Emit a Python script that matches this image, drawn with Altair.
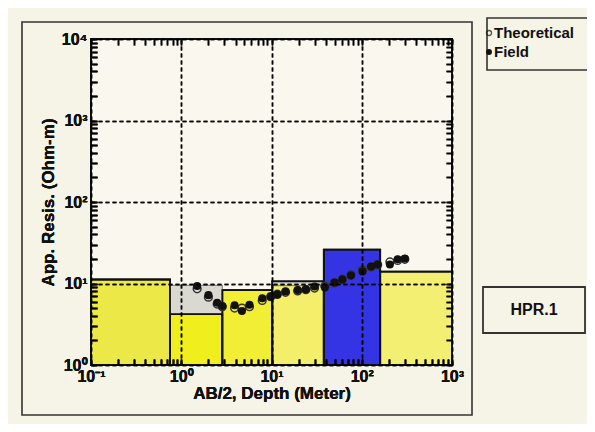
import json
import altair as alt
import pandas as pd

# ---- layered earth model (AB/2 boundaries and resistivity) ----
layer_left = [0.1, 0.75, 2.85, 10.2, 38.0, 160.0]
layer_right = [0.75, 2.85, 10.2, 38.0, 160.0, 1000.0]
layer_rho = [11.2, 4.2, 8.3, 10.6, 26.0, 14.0]
layer_color = ["#ece848", "#f0ee1c", "#f2ee36", "#f3ef6a", "#3434e4", "#f3ef72"]

# grey equivalence shading
shade_left = [0.75, 10.2]
shade_right = [2.85, 38.0]
shade_low = [4.2, 9.4]
shade_high = [9.5, 10.6]

# ---- sounding curves ----
field_x = [1.5, 2.0, 2.5, 2.85, 3.9, 4.7, 5.7, 7.9, 9.8, 11.6, 14.3, 19.5,
           24, 30, 39, 50, 61, 76, 102, 127, 150, 205, 250, 300]
field_y = [9.3, 7.2, 5.8, 5.3, 5.4, 4.6, 5.5, 6.6, 6.9, 7.3, 8.0, 8.3,
           8.5, 9.2, 8.9, 10.3, 11.2, 12.5, 14.0, 16.2, 17.1, 17.1, 19.8, 20.3]
theo_x = [1.5, 2.0, 2.5, 2.85, 3.9, 4.7, 5.7, 7.9, 9.8, 11.6, 14.3, 19.5,
          24, 30, 39, 50, 61, 76, 102, 127, 150, 205, 250, 300]
theo_y = [8.6, 6.8, 5.6, 5.2, 5.0, 5.0, 5.2, 6.2, 6.9, 7.4, 7.8, 8.1,
          8.4, 8.8, 9.3, 10.2, 11.3, 12.8, 14.6, 16.0, 17.0, 18.4, 19.2, 19.8]

x_tick_labels = ["10⁻¹", "10⁰", "10¹", "10²", "10³"]
y_tick_labels = ["10⁰", "10¹", "10²", "10³", "10⁴"]
legend_labels = ["Theoretical", "Field"]
station_label = "HPR.1"
x_title = "AB/2, Depth (Meter)"
y_title = "App. Resis. (Ohm-m)"

W, H = 361, 326
INK = "#111111"
FONT = "Liberation Sans"

layers_df = pd.DataFrame({"left": layer_left, "right": layer_right,
                          "low": [1.0] * len(layer_rho), "rho": layer_rho,
                          "color": layer_color})
shade_df = pd.DataFrame({"left": shade_left, "right": shade_right,
                         "low": shade_low, "high": shade_high})
field_df = pd.DataFrame({"x": field_x, "y": field_y})
theo_df = pd.DataFrame({"x": theo_x, "y": theo_y})
one = pd.DataFrame({"a": [0]})

xs = alt.Scale(type="log", domain=[0.1, 1000], nice=False)
ys = alt.Scale(type="log", domain=[1, 10000], nice=False)

x_ticks = [round(m * 10.0 ** k, 6) for k in range(-1, 3) for m in range(1, 10)] + [1000.0]
y_ticks = [float(m * 10 ** k) for k in range(0, 4) for m in range(1, 10)] + [10000.0]

is_dec = "abs(log(datum.value)/LN10 - round(log(datum.value)/LN10)) < 1e-6"
x_lab_expr = f"({is_dec}) ? {json.dumps(x_tick_labels, ensure_ascii=False)}[round(log(datum.value)/LN10)+1] : ''"
y_lab_expr = f"({is_dec}) ? {json.dumps(y_tick_labels, ensure_ascii=False)}[round(log(datum.value)/LN10)] : ''"

lab = dict(labelFont=FONT, labelFontWeight="bold", labelFontSize=16, labelColor=INK,
           labelOverlap=False, labelFlush=False,
           titleFont=FONT, titleFontWeight="bold", titleFontSize=17, titleColor=INK)

TS = 6
x_bottom = alt.Axis(orient="bottom", values=x_ticks, labelExpr=x_lab_expr, grid=False,
                    domain=False, ticks=True, tickSize=TS, tickWidth=1.6, tickColor="black",
                    offset=-TS, labelPadding=3, title=x_title, titlePadding=1, zindex=2, **lab)
y_left = alt.Axis(orient="left", values=y_ticks, labelExpr=y_lab_expr, grid=False,
                  domain=False, ticks=True, tickSize=TS, tickWidth=1.6, tickColor="black",
                  offset=-TS, labelPadding=4, title=y_title, titlePadding=4, zindex=2, **lab)

grid_op = {"condition": {"test": is_dec, "value": 1}, "value": 0}
x_top = alt.Axis(orient="top", values=x_ticks, labels=False, domain=False, ticks=True,
                 tickSize=TS, tickWidth=1.6, tickColor="black", offset=-TS, grid=True,
                 gridColor="black", gridDash=[4, 3], gridWidth=1.5, gridOpacity=grid_op,
                 title=None, zindex=1)
y_right = alt.Axis(orient="right", values=y_ticks, labels=False, domain=False, ticks=True,
                   tickSize=TS, tickWidth=1.6, tickColor="black", offset=-TS, grid=True,
                   gridColor="black", gridDash=[4, 3], gridWidth=1.5, gridOpacity=grid_op,
                   title=None, zindex=1)

fills = alt.Chart(layers_df).mark_rect(stroke=INK, strokeWidth=1.8).encode(
    x=alt.X("left:Q", scale=xs, axis=x_bottom),
    x2="right:Q",
    y=alt.Y("low:Q", scale=ys, axis=y_left),
    y2="rho:Q",
    color=alt.Color("color:N", scale=None),
)

shades = alt.Chart(shade_df).mark_rect(color="#d9d9d2", stroke="#555555", strokeWidth=0.8).encode(
    x=alt.X("left:Q", scale=xs, axis=x_bottom),
    x2="right:Q",
    y=alt.Y("low:Q", scale=ys, axis=y_left),
    y2="high:Q",
)

outlines = alt.Chart(layers_df).mark_rect(filled=False, stroke=INK, strokeWidth=1.8).encode(
    x=alt.X("left:Q", scale=xs, axis=x_bottom),
    x2="right:Q",
    y=alt.Y("low:Q", scale=ys, axis=y_left),
    y2="rho:Q",
)

theo = alt.Chart(theo_df).mark_point(shape="circle", filled=False, size=60, color="#333333",
                                     strokeWidth=1.5, opacity=1).encode(
    x=alt.X("x:Q", scale=xs, axis=x_top),
    y=alt.Y("y:Q", scale=ys, axis=y_right),
)

field = alt.Chart(field_df).mark_circle(size=65, color=INK, opacity=1).encode(
    x=alt.X("x:Q", scale=xs, axis=x_top),
    y=alt.Y("y:Q", scale=ys, axis=y_right),
)

frame = alt.Chart(one).mark_rect(filled=False, stroke="#333333", strokeWidth=1.6).encode(
    x=alt.value(-69), x2=alt.value(381), y=alt.value(-17), y2=alt.value(376))

leg_box = alt.Chart(one).mark_rect(filled=False, stroke="#333333", strokeWidth=1.6).encode(
    x=alt.value(396), x2=alt.value(502), y=alt.value(-21), y2=alt.value(31))

leg_open = alt.Chart(one).mark_point(shape="circle", filled=False, size=25, color=INK,
                                     strokeWidth=1.3).encode(x=alt.value(398), y=alt.value(-6))
leg_fill = alt.Chart(one).mark_circle(size=35, color=INK, opacity=1).encode(
    x=alt.value(398), y=alt.value(13))
leg_t1 = alt.Chart(one).mark_text(text=legend_labels[0], align="left", baseline="middle",
                                  font=FONT, fontWeight="bold", fontSize=15, color=INK).encode(
    x=alt.value(403), y=alt.value(-6))
leg_t2 = alt.Chart(one).mark_text(text=legend_labels[1], align="left", baseline="middle",
                                  font=FONT, fontWeight="bold", fontSize=15, color=INK).encode(
    x=alt.value(403), y=alt.value(13))

hpr_box = alt.Chart(one).mark_rect(filled=False, stroke="#333333", strokeWidth=1.8).encode(
    x=alt.value(392), x2=alt.value(494), y=alt.value(248), y2=alt.value(294))
hpr_t = alt.Chart(one).mark_text(text=station_label, align="center", baseline="middle",
                                 font=FONT, fontWeight="bold", fontSize=16, color=INK).encode(
    x=alt.value(443), y=alt.value(271))

chart = alt.layer(
    fills, shades, outlines, theo, field, frame,
    leg_box, leg_open, leg_fill, leg_t1, leg_t2, hpr_box, hpr_t,
).properties(
    width=W, height=H,
    padding={"left": 83, "top": 31, "right": 135, "bottom": 59},
    autosize=alt.AutoSizeParams(type="none"),
    background="#f6f4e6",
).configure_view(fill="#faf8ee", stroke=INK, strokeWidth=2)

chart.save("out.html", embed_options={"renderer": "svg", "actions": False})
